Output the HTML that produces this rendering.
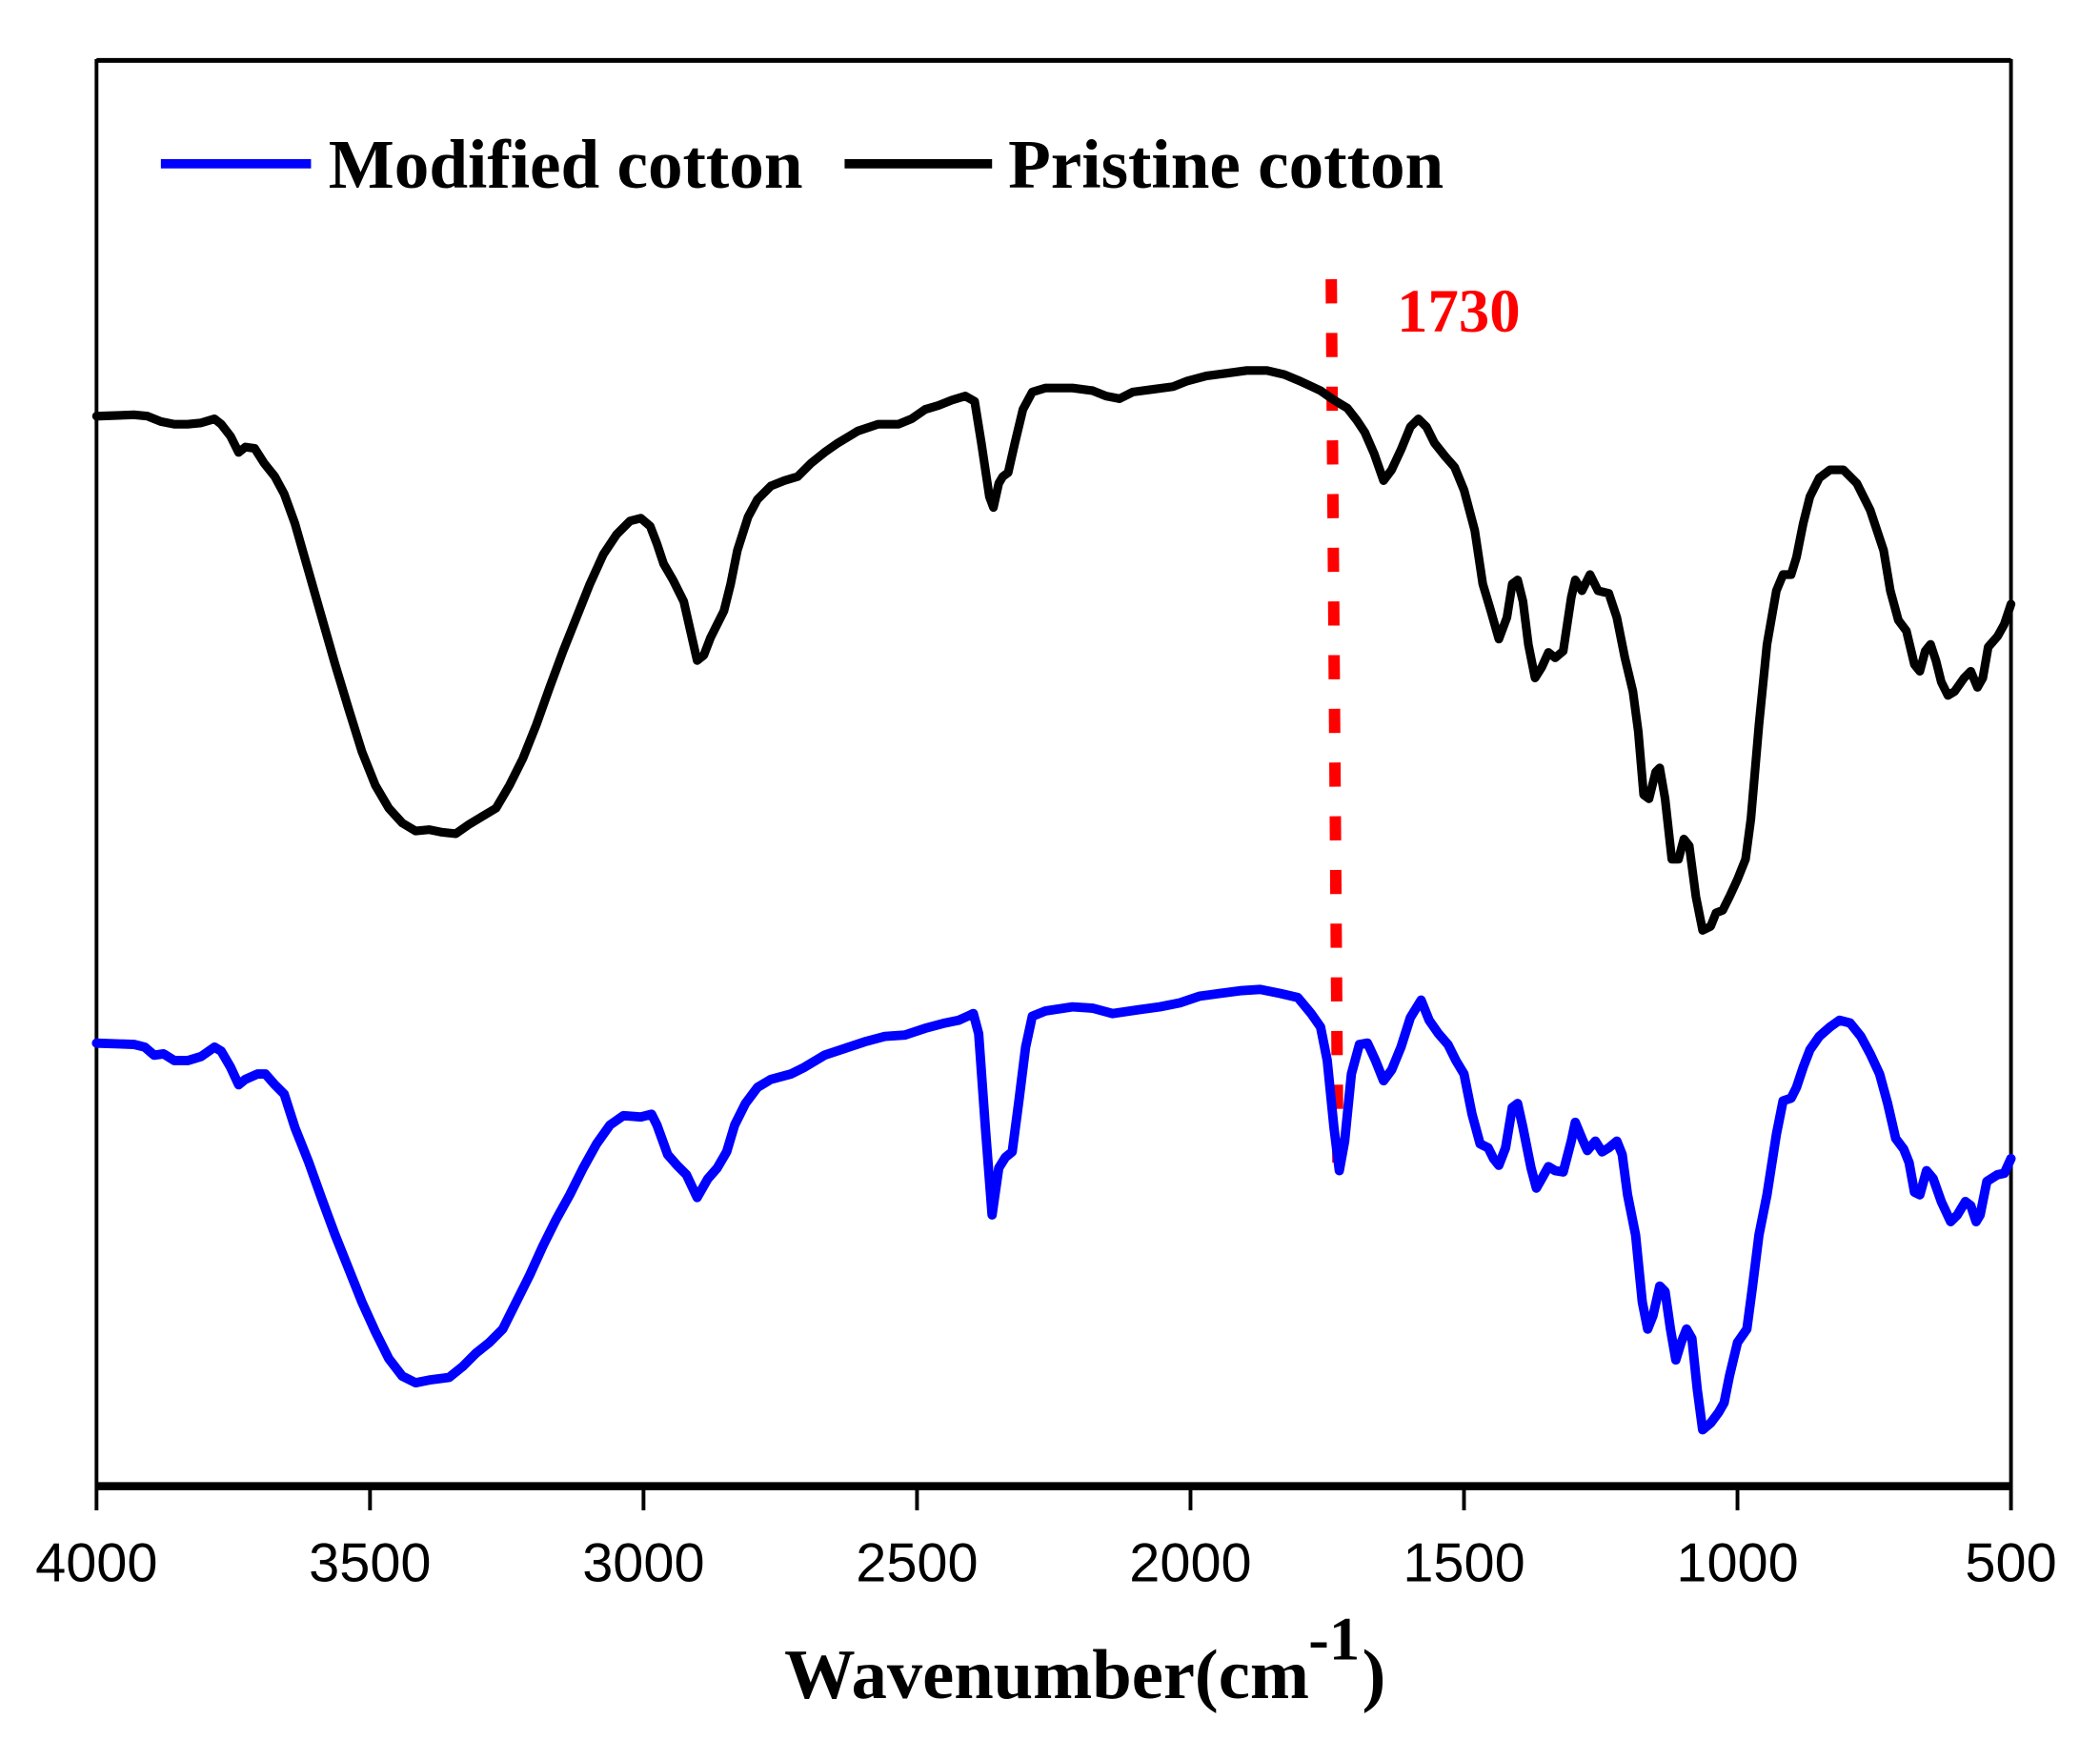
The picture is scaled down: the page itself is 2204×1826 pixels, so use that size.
<!DOCTYPE html>
<html><head><meta charset="utf-8"><style>
html,body{margin:0;padding:0;background:#fff;}
svg{display:block;}
</style></head><body>
<svg width="2204" height="1826" viewBox="0 0 1566.4 1296.1" preserveAspectRatio="none" xmlns="http://www.w3.org/2000/svg">
<rect width="1570" height="1300" fill="#fff"/>
<g stroke="#000" fill="none">
<line x1="72" y1="45" x2="1500" y2="45" stroke-width="3.5"/>
<line x1="72" y1="44" x2="72" y2="1125" stroke-width="2.8"/>
<line x1="1500" y1="44" x2="1500" y2="1125" stroke-width="2.8"/>
<line x1="71" y1="1107" x2="1501" y2="1107" stroke-width="6"/>
<g stroke-width="2.8">
<line x1="276" y1="1107" x2="276" y2="1125"/><line x1="480" y1="1107" x2="480" y2="1125"/>
<line x1="684" y1="1107" x2="684" y2="1125"/><line x1="888" y1="1107" x2="888" y2="1125"/>
<line x1="1092" y1="1107" x2="1092" y2="1125"/><line x1="1296" y1="1107" x2="1296" y2="1125"/>
</g>
</g>
<g font-family="Liberation Sans, sans-serif" font-size="41" text-anchor="middle" fill="#000">
<text x="72" y="1178">4000</text><text x="276" y="1178">3500</text><text x="480" y="1178">3000</text>
<text x="684" y="1178">2500</text><text x="888" y="1178">2000</text><text x="1092" y="1178">1500</text>
<text x="1296" y="1178">1000</text><text x="1500" y="1178">500</text>
</g>
<g font-family="Liberation Serif, serif" font-weight="bold" fill="#000">
<text x="585" y="1265" font-size="53">Wavenumber(cm</text>
<text x="976" y="1236" font-size="46">-1</text>
<text x="1016" y="1265" font-size="53">)</text>
<text x="245" y="140" font-size="52">Modified cotton</text>
<text x="752" y="140" font-size="52">Pristine cotton</text>
<text x="1042" y="247" font-size="46" fill="#ff0000">1730</text>
</g>
<line x1="120" y1="122" x2="232" y2="122" stroke="#0000ff" stroke-width="7"/>
<line x1="630" y1="122" x2="740" y2="122" stroke="#000" stroke-width="7"/>
<line x1="993" y1="208" x2="998" y2="872" stroke="#ff0000" stroke-width="8.5" stroke-dasharray="18 22"/>
<polyline fill="none" stroke="#000" stroke-width="6.5" stroke-linejoin="round" stroke-linecap="round" points="72,310 100,309 110,310 120,314 130,316 140,316 150,315 160,312 165,316 172,325 178,337 183,333 190,334 197,345 205,355 212,368 220,390 230,425 240,460 250,495 260,528 270,560 280,585 290,602 300,613 310,619 320,618 330,620 340,621 350,614 360,608 370,602 380,585 390,565 400,540 410,512 420,485 430,460 440,435 450,413 460,398 470,388 478,386 485,392 490,405 495,420 502,432 510,448 515,470 520,492 525,488 530,475 540,455 545,435 550,410 558,385 565,372 575,362 585,358 595,355 605,345 615,337 625,330 640,321 655,316 670,316 680,312 690,305 700,302 710,298 720,295 727,299 732,330 738,370 741,378 745,360 748,355 752,352 757,330 763,305 770,292 780,289 800,289 815,291 825,295 835,297 845,292 860,290 875,288 885,284 900,280 915,278 930,276 945,276 958,279 970,284 985,291 995,298 1005,304 1012,313 1018,322 1025,338 1032,358 1038,350 1045,335 1052,318 1058,312 1064,318 1070,330 1078,340 1085,348 1092,365 1100,395 1106,435 1112,455 1118,476 1124,460 1128,435 1132,432 1136,448 1140,480 1145,505 1150,497 1155,486 1160,490 1166,485 1172,445 1175,432 1180,440 1186,428 1192,440 1200,442 1206,460 1212,490 1218,515 1222,545 1226,592 1230,595 1235,575 1238,572 1242,595 1247,640 1252,640 1256,625 1260,630 1265,668 1270,693 1276,690 1280,680 1285,678 1290,668 1296,655 1302,640 1306,610 1312,540 1318,480 1325,440 1330,428 1336,428 1340,415 1345,390 1350,370 1357,356 1365,350 1375,350 1385,360 1395,380 1405,410 1410,440 1416,462 1422,470 1428,495 1432,500 1436,485 1440,480 1444,492 1448,508 1453,518 1458,515 1465,505 1470,500 1475,512 1479,505 1483,482 1490,474 1495,465 1500,450"/>
<polyline fill="none" stroke="#0000ff" stroke-width="7" stroke-linejoin="round" stroke-linecap="round" points="72,777 100,778 108,780 115,786 122,785 130,790 140,790 150,787 160,780 165,783 172,795 178,808 183,804 192,800 198,800 205,808 212,815 220,840 230,865 240,893 250,920 260,945 270,970 280,992 290,1012 300,1025 310,1030 320,1028 335,1026 345,1018 355,1008 365,1000 375,990 385,970 395,950 405,928 415,908 425,890 435,870 445,852 455,838 465,831 478,832 486,830 490,838 498,860 505,868 512,875 520,892 528,878 535,870 542,858 548,838 556,822 565,810 575,804 590,800 600,795 615,786 630,781 645,776 660,772 675,771 690,766 705,762 715,760 726,755 730,770 735,840 740,905 745,870 750,862 755,858 760,820 765,780 770,757 780,753 800,750 815,751 830,755 850,752 865,750 880,747 895,742 910,740 925,738 940,737 955,740 968,743 978,755 985,765 990,790 995,840 999,872 1003,850 1008,800 1014,778 1020,777 1026,790 1032,805 1038,797 1045,780 1052,758 1060,745 1066,760 1073,770 1080,778 1086,790 1092,800 1098,830 1104,852 1110,855 1114,863 1118,868 1123,855 1128,825 1132,822 1136,840 1142,870 1146,885 1150,878 1155,869 1160,872 1166,873 1172,850 1175,836 1180,848 1184,857 1190,850 1195,858 1200,855 1206,850 1210,860 1214,890 1220,920 1225,970 1229,990 1233,980 1238,958 1242,962 1246,990 1250,1013 1254,1000 1258,990 1262,997 1266,1035 1270,1065 1276,1060 1282,1052 1286,1045 1290,1025 1296,1000 1303,990 1307,960 1312,920 1318,890 1325,845 1330,820 1336,818 1340,810 1345,795 1350,782 1357,772 1365,765 1372,760 1380,762 1388,772 1395,785 1402,800 1408,822 1414,848 1420,856 1424,866 1428,888 1432,890 1437,872 1442,878 1448,895 1455,910 1460,905 1466,895 1470,898 1474,910 1477,905 1482,880 1490,875 1495,874 1500,863"/>
</svg>
</body></html>
